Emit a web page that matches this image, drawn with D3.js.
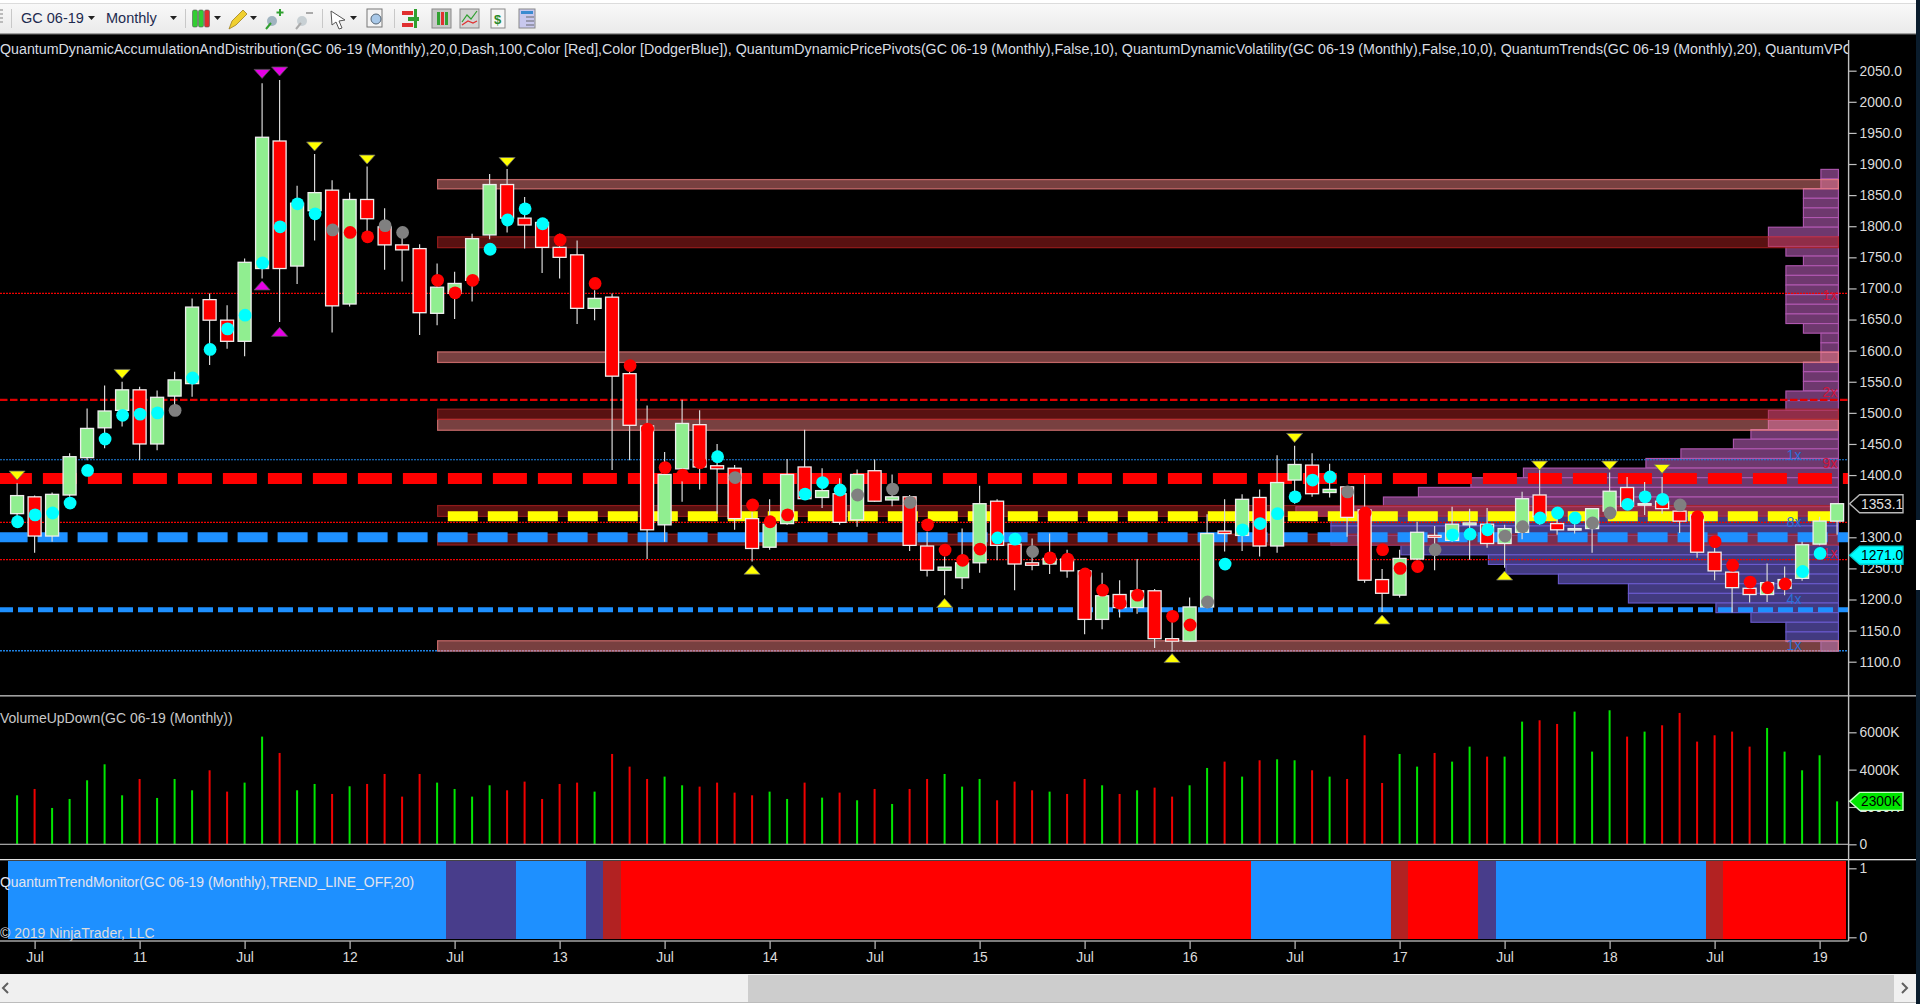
<!DOCTYPE html>
<html><head><meta charset="utf-8">
<script src="https://cdn.jsdelivr.net/npm/d3@7"></script>
<style>html,body{margin:0;padding:0;background:#000;overflow:hidden}svg{display:block}text{font-family:"Liberation Sans",Arial,sans-serif}</style>
</head><body><svg id="c" width="1920" height="1004"></svg>
<script>
const opens=[1338,1365,1302,1368,1428,1476,1504,1537,1450,1527,1547,1682,1649,1615,1732,1937,1736,1825,1858,1675,1843,1799,1770,1764,1660,1692,1713,1786,1867,1813,1806,1766,1754,1668,1686,1563,1479,1320,1410,1481,1415,1411,1330,1284,1322,1413,1364,1370,1328,1407,1360,1365,1286,1247,1235,1259,1358,1289,1259,1257,1265,1246,1168,1208,1187,1214,1137,1133,1188,1310,1303,1364,1286,1392,1416,1372,1381,1344,1232,1207,1265,1303,1295,1320,1321,1290,1308,1368,1322,1312,1314,1342,1380,1352,1358,1342,1336,1276,1244,1218,1208,1218,1234,1289,1326];
const highs=[1387,1367,1372,1435,1507,1544,1550,1542,1536,1566,1684,1692,1673,1748,2030,2035,1865,1916,1874,1854,1896,1829,1799,1771,1740,1727,1788,1884,1892,1847,1813,1788,1777,1697,1692,1576,1512,1437,1521,1504,1450,1416,1341,1361,1426,1473,1411,1395,1409,1425,1401,1368,1309,1269,1314,1383,1361,1298,1298,1306,1280,1248,1243,1231,1265,1217,1172,1203,1337,1361,1369,1377,1432,1447,1435,1418,1382,1400,1249,1280,1325,1318,1349,1346,1347,1320,1373,1409,1341,1338,1346,1404,1397,1389,1397,1352,1339,1301,1260,1228,1258,1253,1293,1333,1355];
const lows=[1330,1275,1293,1365,1424,1443,1478,1424,1440,1510,1526,1577,1603,1591,1716,1646,1707,1777,1629,1671,1788,1730,1711,1625,1641,1651,1679,1779,1790,1764,1725,1716,1643,1649,1408,1424,1265,1293,1357,1377,1338,1312,1261,1280,1320,1361,1347,1320,1317,1357,1350,1278,1237,1207,1217,1243,1263,1215,1247,1241,1235,1144,1152,1171,1177,1122,1116,1132,1186,1277,1278,1269,1275,1354,1365,1364,1301,1227,1180,1203,1263,1247,1293,1264,1283,1251,1297,1320,1304,1306,1275,1340,1344,1336,1338,1307,1267,1231,1179,1195,1196,1207,1230,1287,1304];
const closes=[1367,1302,1369,1429.5,1475,1503,1537,1450,1525,1553,1670,1649,1615,1742,1943,1732,1837,1854,1672,1843,1812,1770,1762,1661,1702,1708,1780,1867,1813,1802,1766,1750,1668,1684,1559,1480,1312,1401,1483,1413,1410,1330,1282,1321,1401,1362,1375,1324,1401,1358,1365,1287,1247,1252,1259,1354,1287,1257,1255,1266,1246,1168,1206,1187,1214,1137,1133,1188,1306,1306,1361,1286,1388,1417,1370,1377,1332,1231,1210,1266,1308,1300,1321,1323,1290,1314,1362,1333,1312,1314,1346,1374,1350,1354,1346,1326,1276,1246,1219,1208,1227,1232,1288,1326,1354];
const dotPrices=[1325,1336,1339,1355,1407.5,1458,1496,1498,1500,1504,1556,1602,1635,1657,1741,1799,1836,1820,1794,1790,1783,1801,1790,null,1713,1693,1713,1763,1810,1828,1804,1778,null,1708,null,1576,1474,1412,1400,1420,1429.5,1396,1352,1325,1336,1369.5,1388,1376,1368,null,1377.5,1356,1320,1279.5,1263,1281,1299,1297,1277,1267,1265,1241,1215,1194,1207,null,1173,1159,1196,1257,1312,1322,1338,1365,1392,1397,1373,1339,1280,1250,1253,1280,1304,1305,1312,1302,1317,1331,1339,1331,1323,1339,1353,1365,1361,1352,1333,1293,1255,1228,1219,1225,1245,1274,null];
const dotKinds="c c c c c c c c c g c c c c c c c c g r r g g - r r r c c c c r - r - r r r r r c g r r r c c c g - g g r r r r c c g r r r r r r - r r g c c c c c c c g r r r r g c c c g g c c c g g c c c g r r r r r r c c -".split(" ");
const volumes=[2625,2965,1947,2429,3429,4286,2625,3500,2483,3500,2893,3965,2822,3304,5769,4894,2893,3233,2697,3108,3233,3768,2554,3768,3304,2965,2554,3161,2893,3358,2429,3233,3304,2822,4840,4161,3500,3626,3161,3090,3304,2768,2625,2822,2429,3304,2500,2768,2358,2965,2161,2965,3500,3768,3090,3500,2358,3358,2893,2822,2697,3500,3161,2697,2893,3036,2554,3161,4090,4429,3626,4501,4554,4501,3965,3626,3500,5840,3286,4840,4161,4894,4429,5233,4697,4697,6572,6644,6447,7108,4965,7180,5769,6037,6376,7037,5501,5840,6037,5233,6233,4965,3965,4769,2300];
const volumeUp="1 0 1 1 1 1 1 0 1 1 1 0 0 1 1 0 1 1 0 1 0 0 0 0 1 1 1 1 0 0 0 0 0 1 0 0 0 1 1 0 0 0 0 1 1 0 1 0 1 0 1 0 0 1 1 1 0 0 0 1 0 0 1 0 1 0 0 1 1 0 1 0 1 1 0 1 0 0 0 1 1 0 1 1 0 1 1 0 0 1 1 1 0 1 0 0 0 0 0 0 1 1 1 1 1".split(" ").map(Number);
const triDownYellow=[[0,1400],[6,1563.4],[17,1929],[20,1908],[28,1904],[73,1460.5],[87,1416],[91,1416],[94,1410.7]];
const triUpYellow=[[42,1247],[53,1193.7],[66,1105],[78,1167],[85,1237.7]];
const triDownMagenta=[[14,2045.7],[15,2049.5]];
const triUpMagenta=[[14,1704],[15,1629.4]];
const zonesLight=[[1875,1860],[1598,1581],[1489.5,1472],[1133.7,1117]];
const zonesDark=[[1783,1765.5],[1506,1489.5],[1351,1333.5],[1305,1287.5]];
const profileHigh=1891.4, profileStep=15.49, profileSplit=1333;
const profileCounts=[1,1,2,2,2,2,4,4,3,2,3,3,3,3,3,3,2,1,1,1,2,2,2,3,3,4,4,5,6,9,11,18,21,24,26,31,29,29,29,25,20,19,16,12,12,7,5,3,3,1];
const profileTags=[["1x",1690,"r",0],["2x",1533,"r",0],["1x",1433,"b",2],["9x",1420,"r",0],["8x",1325,"b",2],["1x",1274,"r",0],["4x",1201,"b",2],["1x",1127,"b",2]];
const trendRuns=[["blue",25],["indigo",4],["blue",4],["indigo",1],["brick",1],["red",36],["blue",8],["brick",1],["red",4],["indigo",1],["blue",12],["brick",1],["red",7]];
const trendColors={blue:"#1e90ff",indigo:"#483d8b",brick:"#b22222",red:"#ff0000"};
const priceTicks=[2050,2000,1950,1900,1850,1800,1750,1700,1650,1600,1550,1500,1450,1400,1300,1250,1200,1150,1100];
const volumeTicks=[0,2000,4000,6000];
const timeTickBars=[1,7,13,19,25,31,37,43,49,55,61,67,73,79,85,91,97,103];
const timeTickLabels=["Jul","11","Jul","12","Jul","13","Jul","14","Jul","15","Jul","16","Jul","17","Jul","18","Jul","19"];
const header="QuantumDynamicAccumulationAndDistribution(GC 06-19 (Monthly),20,0,Dash,100,Color [Red],Color [DodgerBlue]), QuantumDynamicPricePivots(GC 06-19 (Monthly),False,10), QuantumDynamicVolatility(GC 06-19 (Monthly),False,10,0), QuantumTrends(GC 06-19 (Monthly),20), QuantumVPOC";

const svg=d3.select("#c");
const x=d3.scaleLinear().domain([0,104]).range([17.1,1837.1]);
const y=d3.scaleLinear().domain([1100,2050]).range([661.7,70.7]);
const yVol=d3.scaleLinear().domain([0,6000]).range([844.3,732.3]);
const yTrend=d3.scaleLinear().domain([0,1]).range([937.3,868.3]);
const axisX=1848.6, zoneX0=437.6, zoneX1=1838.4;
const bars=d3.range(opens.length);

/* window chrome */
const defs=svg.append("defs");
const g=defs.append("linearGradient").attr("id","tb").attr("x1",0).attr("y1",0).attr("x2",0).attr("y2",1);
g.append("stop").attr("offset",0).attr("stop-color","#fbfbfb");g.append("stop").attr("offset",1).attr("stop-color","#eaeaea");
svg.append("rect").attr("width",1920).attr("height",1004).attr("fill","#000");
svg.append("rect").attr("width",1916).attr("height",34).attr("fill","url(#tb)");
svg.append("rect").attr("width",1916).attr("height",3).attr("fill","#fff");
svg.append("rect").attr("y",3).attr("width",1916).attr("height",1).attr("fill","#dcdcdc");
svg.append("rect").attr("y",33.5).attr("width",1916).attr("height",1.2).attr("fill","#555");
svg.append("rect").attr("x",1916).attr("width",4).attr("height",1004).attr("fill","#0a1c2c");
svg.append("rect").attr("x",1916).attr("y",520).attr("width",4).attr("height",70).attr("fill","#fff");

/* toolbar */
const tb=svg.append("g");
const tbText=(s,xx)=>tb.append("text").attr("x",xx).attr("y",23).attr("font-size",14.5).attr("fill","#1d2b4f").text(s);
tbText("GC 06-19",21);tbText("Monthly",106);
const caret=xx=>tb.append("path").attr("d",`M${xx},16 h7 l-3.5,4 z`).attr("fill","#222");
[88,170,214,250,350].forEach(caret);
[11,185,322,394].forEach(xx=>tb.append("rect").attr("x",xx).attr("y",9).attr("width",1).attr("height",19).attr("fill","#c8c8c8"));
[9,13,17,21].forEach(yy=>tb.append("rect").attr("x",0).attr("y",yy).attr("width",3).attr("height",2).attr("fill","#bbb"));
[[194,"#32cd32"],[200,"#32cd32"],[206,"#e03030"]].forEach(([xx,c])=>{tb.append("rect").attr("x",xx-1.5).attr("y",10).attr("width",5).attr("height",17).attr("rx",1.5).attr("fill",c).attr("stroke","#555").attr("stroke-width",.6);});
tb.append("path").attr("d","M229,29 l3,-8 l11,-11 l4,4 l-11,11 z").attr("fill","#f0d030").attr("stroke","#a08020").attr("stroke-width",.8);
tb.append("circle").attr("cx",272).attr("cy",21).attr("r",5).attr("fill","#a0b4c0");
tb.append("path").attr("d","M266,29 l5,-6 M280,9 v7 M276.5,12.5 h7").attr("stroke","#30a030").attr("stroke-width",2);
tb.append("circle").attr("cx",302).attr("cy",21).attr("r",5).attr("fill","#c8d0d4");
tb.append("path").attr("d","M296,29 l5,-6 M306,13 h7").attr("stroke","#aaa").attr("stroke-width",2);
tb.append("path").attr("d","M331,11 l14,9 l-6,1 l3,7 l-3,1 l-3,-7 l-4,3 z").attr("fill","#fff").attr("stroke","#555");
tb.append("rect").attr("x",367).attr("y",9).attr("width",15).attr("height",18).attr("fill","#f4f4f4").attr("stroke","#777");
tb.append("circle").attr("cx",376).attr("cy",19).attr("r",5).attr("fill","#a8c8e8").attr("stroke","#567");
[[402,"#e03030"],[408,"#30a030"],[402,"#e03030"]].forEach(([xx,c],k)=>tb.append("rect").attr("x",xx).attr("y",11+k*6).attr("width",11).attr("height",4).attr("fill",c));
tb.append("rect").attr("x",414).attr("y",9).attr("width",3).attr("height",19).attr("fill","#30a030");
tb.append("rect").attr("x",432).attr("y",9).attr("width",19).attr("height",19).attr("fill","#c8c8c8").attr("stroke","#888");
[[437,"#32a032"],[441,"#e03030"],[445,"#32a032"]].forEach(([xx,c])=>tb.append("rect").attr("x",xx).attr("y",12).attr("width",3).attr("height",13).attr("fill",c));
tb.append("rect").attr("x",460).attr("y",9).attr("width",19).attr("height",19).attr("fill","#d4d4d4").attr("stroke","#888");
tb.append("path").attr("d","M462,22 l5,-7 l4,4 l6,-8").attr("fill","none").attr("stroke","#30a030").attr("stroke-width",1.2);
tb.append("path").attr("d","M462,25 l6,-4 l5,2 l4,-2").attr("fill","none").attr("stroke","#e03030").attr("stroke-width",1.2);
tb.append("rect").attr("x",491).attr("y",9).attr("width",14).attr("height",19).attr("fill","#f6f6f6").attr("stroke","#888");
tb.append("text").attr("x",494).attr("y",24).attr("font-size",13).attr("font-weight","bold").attr("fill","#2a8a2a").text("$");
tb.append("rect").attr("x",519).attr("y",9).attr("width",16).attr("height",19).attr("fill","#c8c8ee").attr("stroke","#888");
tb.append("rect").attr("x",521).attr("y",11).attr("width",12).attr("height",3).attr("fill","#3a8ad0");
[17,21,25].forEach(yy=>tb.append("path").attr("d",`M526,${yy} h8`).attr("stroke","#889").attr("stroke-width",1.5));

/* volume profile */
const pX=d3.scaleLinear().domain([0,1]).range([zoneX1,zoneX1-17.5]);
const prof=svg.append("g");
profileCounts.forEach((c,k)=>{
  const top=profileHigh-k*profileStep, bot=top-profileStep, up=bot>=profileSplit;
  prof.append("rect").attr("x",pX(c)).attr("y",y(top)).attr("width",pX(0)-pX(c)).attr("height",y(bot)-y(top))
    .attr("fill",up?"#6e386e":"#423a80").attr("stroke",up?"#b058b0":"#6a5acd").attr("stroke-width",1.1);
});
/* thin dotted levels */
const thinLine=(p,col,dash,w)=>svg.append("line").attr("x1",0).attr("x2",axisX).attr("y1",y(p)).attr("y2",y(p)).attr("stroke",col).attr("stroke-width",w).attr("stroke-dasharray",dash);
thinLine(1692,"#f00000","2 1",1.2);thinLine(1324,"#f00000","2 1",1.2);thinLine(1264,"#f00000","2 1",1.2);
thinLine(1424.6,"#1e80e0","2 1",1.2);thinLine(1117.6,"#1e80e0","2 1",1.3);
thinLine(1521,"#e00000","7.5 2.5",2.2);
svg.append("line").attr("x1",-2).attr("x2",axisX).attr("y1",y(1183.5)).attr("y2",y(1183.5)).attr("stroke","#1e90ff").attr("stroke-width",5).attr("stroke-dasharray","15 5");

/* zones */
const zoneG=svg.append("g");
zonesLight.forEach(([a,b])=>zoneG.append("rect").attr("x",zoneX0).attr("y",y(a)).attr("width",zoneX1-zoneX0).attr("height",y(b)-y(a)).attr("fill","#f08080").attr("fill-opacity",.5).attr("stroke","#f08080").attr("stroke-opacity",.75).attr("stroke-width",1.2));
zonesDark.forEach(([a,b])=>zoneG.append("rect").attr("x",zoneX0).attr("y",y(a)).attr("width",zoneX1-zoneX0).attr("height",y(b)-y(a)).attr("fill","#b22222").attr("fill-opacity",.5).attr("stroke","#b22222").attr("stroke-opacity",.75).attr("stroke-width",1.2));

/* thick dashed levels */
svg.append("line").attr("x1",-2.1).attr("x2",axisX).attr("y1",y(1394.6)).attr("y2",y(1394.6)).attr("stroke","#ff0000").attr("stroke-width",11).attr("stroke-dasharray","34 11");
svg.append("line").attr("x1",447.8).attr("x2",zoneX1).attr("y1",y(1334)).attr("y2",y(1334)).attr("stroke","#ffff00").attr("stroke-width",10).attr("stroke-dasharray","30 10");
svg.append("line").attr("x1",-2.4).attr("x2",axisX).attr("y1",y(1300)).attr("y2",y(1300)).attr("stroke","#1e90ff").attr("stroke-width",10).attr("stroke-dasharray","30 10");

/* profile tags */
svg.append("g").selectAll("text").data(profileTags).join("text")
 .attr("x",d=>d[3]?1794:1830).attr("y",d=>y(d[1])+5).attr("text-anchor","middle").attr("font-size",14)
 .attr("fill",d=>d[2]==="r"?"#d0143c":"#2b6fd8").text(d=>d[0]);

/* candles */
svg.append("g").selectAll("line").data(bars).join("line")
 .attr("x1",i=>x(i)).attr("x2",i=>x(i)).attr("y1",i=>y(highs[i])).attr("y2",i=>y(lows[i]))
 .attr("stroke","#d8d8d8").attr("stroke-width",1.2);
svg.append("g").selectAll("rect").data(bars).join("rect")
 .attr("x",i=>x(i)-6.5).attr("width",13)
 .attr("y",i=>y(Math.max(opens[i],closes[i])))
 .attr("height",i=>Math.max(1.5,Math.abs(y(opens[i])-y(closes[i]))))
 .attr("fill",i=>closes[i]>=opens[i]?"#90ee90":"#ff0000").attr("stroke","#eeeeee").attr("stroke-width",1.3);

/* signal dots */
const dotColor={c:"#00ffff",r:"#ff0000",g:"#808080"};
svg.append("g").selectAll("circle").data(bars.filter(i=>dotPrices[i]!==null)).join("circle")
 .attr("cx",i=>x(i)+.5).attr("cy",i=>y(dotPrices[i])).attr("r",6.4).attr("fill",i=>dotColor[dotKinds[i]]);

/* pivot triangles */
const tri=(list,dir,col,edge)=>svg.append("g").selectAll("path").data(list).join("path")
 .attr("d",([i,p])=>{const X=x(i),Y=y(p);return dir<0?`M${X-8},${Y-4} h16 L${X},${Y+5} Z`:`M${X-8},${Y+4} h16 L${X},${Y-5} Z`;})
 .attr("fill",col).attr("stroke",edge).attr("stroke-width",.8);
tri(triDownYellow,-1,"#ffff00","#666");tri(triUpYellow,1,"#ffff00","#666");
tri(triDownMagenta,-1,"#e600e6","#555");tri(triUpMagenta,1,"#e600e6","#555");

/* header */
svg.append("clipPath").attr("id","hc").append("rect").attr("x",0).attr("y",35).attr("width",axisX-.5).attr("height",22);
svg.append("text").attr("clip-path","url(#hc)").attr("x",0).attr("y",54).attr("font-size",14.24).attr("fill","#d8dde2").text(header);

/* panel separators */
svg.append("rect").attr("x",0).attr("y",695).attr("width",1916).attr("height",1.6).attr("fill","#a0a0a0");
svg.append("text").attr("x",0).attr("y",723).attr("font-size",14).attr("fill","#c8c8c8").text("VolumeUpDown(GC 06-19 (Monthly))");

/* volume */
svg.append("g").selectAll("line").data(bars).join("line")
 .attr("x1",i=>x(i)).attr("x2",i=>x(i)).attr("y1",i=>yVol(volumes[i])).attr("y2",yVol(0))
 .attr("stroke",i=>volumeUp[i]?"#00e600":"#f00000").attr("stroke-width",2);
svg.append("rect").attr("x",0).attr("y",843.7).attr("width",axisX).attr("height",1.3).attr("fill","#a0a0a0");

/* trend monitor */
const trendStates=trendRuns.flatMap(([s,n])=>d3.range(n).map(()=>s));
svg.append("g").attr("shape-rendering","crispEdges").selectAll("rect").data(bars).join("rect")
 .attr("x",i=>x(i-.5)).attr("width",i=>x(i+.5)-x(i-.5)+.6).attr("y",860.5).attr("height",78.2)
 .attr("fill",i=>trendColors[trendStates[i]]);
svg.append("rect").attr("x",0).attr("y",859).attr("width",1916).attr("height",1.3).attr("fill","#e0e0e0");
svg.append("text").attr("x",0).attr("y",886.5).attr("font-size",13.9).attr("fill","#e4e4ee").text("QuantumTrendMonitor(GC 06-19 (Monthly),TREND_LINE_OFF,20)");
svg.append("text").attr("x",0).attr("y",937.5).attr("font-size",14).attr("fill","#dcdcdc").text("© 2019 NinjaTrader, LLC");

/* axes */
const styleAxis=sel=>{sel.selectAll(".domain").remove();sel.selectAll("line").attr("stroke","#c0c0c0").attr("stroke-width",1.2);sel.selectAll("text").attr("fill","#dcdcdc").attr("font-size",13.8).attr("font-family",'"Liberation Sans",Arial,sans-serif');};
svg.append("g").attr("transform",`translate(${axisX},0)`).call(d3.axisRight(y).tickValues(priceTicks).tickSize(8).tickPadding(3).tickFormat(d3.format(".1f"))).call(styleAxis);
svg.append("g").attr("transform",`translate(${axisX},0)`).call(d3.axisRight(yVol).tickValues(volumeTicks).tickSize(8).tickPadding(3).tickFormat(d=>d===0?"0":d+"K")).call(styleAxis);
svg.append("g").attr("transform",`translate(${axisX},0)`).call(d3.axisRight(yTrend).tickValues([0,1]).tickSize(8).tickPadding(3).tickFormat(d3.format("d"))).call(styleAxis);
svg.append("g").attr("transform","translate(0,941)").call(d3.axisBottom(x).tickValues(timeTickBars).tickSize(8).tickPadding(3).tickFormat((d,k)=>timeTickLabels[k])).call(styleAxis);
svg.append("rect").attr("x",0).attr("y",940.3).attr("width",axisX).attr("height",1.4).attr("fill","#b0b0b0");
svg.append("rect").attr("x",axisX-.7).attr("y",40).attr("width",1.4).attr("height",901).attr("fill","#c0c0c0");

/* last-value tags */
const tag=(yy,fill,stroke,txt,col)=>{
  svg.append("path").attr("d",`M${axisX+1},${yy} L${axisX+11},${yy-9} H1903 V${yy+9} H${axisX+11} Z`).attr("fill",fill).attr("stroke",stroke).attr("stroke-width",1.4);
  svg.append("text").attr("x",1861).attr("y",yy+5).attr("font-size",13.8).attr("fill",col).text(txt);
};
tag(y(closes[104]),"#000","#b8b8b8",d3.format(".1f")(1353.1),"#e0e0e0");
tag(y(1271),"#00ffff","#00d0d0",d3.format(".1f")(1271),"#000");
tag(yVol(volumes[104]),"#00e600","#c8ffc8",volumes[104]+"K","#000");

/* scrollbar */
svg.append("rect").attr("x",0).attr("y",974).attr("width",1916).attr("height",28.5).attr("fill","#f0f0f0");
svg.append("rect").attr("x",748).attr("y",975).attr("width",1146).attr("height",27).attr("fill","#cdcdcd");
svg.append("rect").attr("x",0).attr("y",1002.5).attr("width",1916).attr("height",1.5).attr("fill","#ffffff");
svg.append("path").attr("d","M8,983 l-5,5 l5,5").attr("fill","none").attr("stroke","#606060").attr("stroke-width",2);
svg.append("path").attr("d","M1902,983 l5,5 l-5,5").attr("fill","none").attr("stroke","#606060").attr("stroke-width",2);
</script></body></html>
